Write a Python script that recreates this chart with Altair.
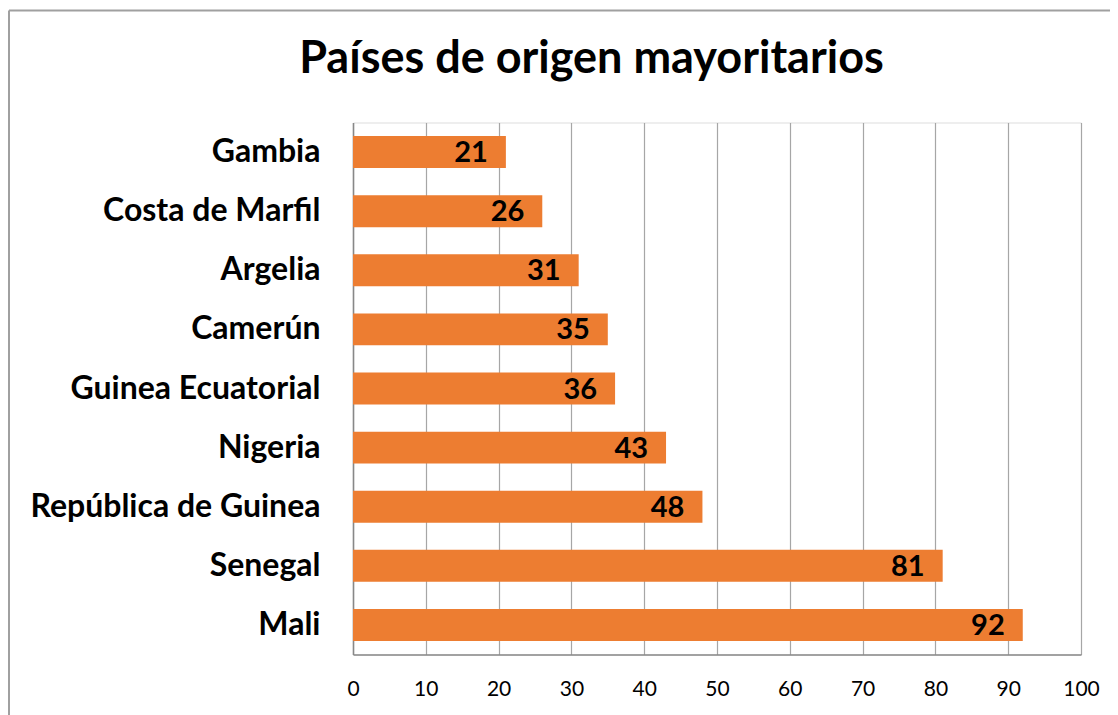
import altair as alt
import pandas as pd

title_text = "Países de origen mayoritarios"
countries = ["Gambia", "Costa de Marfil", "Argelia", "Camerún", "Guinea Ecuatorial",
             "Nigeria", "República de Guinea", "Senegal", "Mali"]
values = [21, 26, 31, 35, 36, 43, 48, 81, 92]
x_ticks = [0, 10, 20, 30, 40, 50, 60, 70, 80, 90, 100]

df = pd.DataFrame({"pais": countries, "valor": values})

FONT = "Lato"
ORANGE = "#ED7D31"

y_enc = alt.Y("pais:N", sort=countries, title=None,
              scale=alt.Scale(paddingInner=0.46, paddingOuter=0.23),
              axis=alt.Axis(labelFont=FONT, labelFontSize=32, labelFontWeight="bold",
                            labelColor="#000000", labelPadding=33, ticks=False,
                            domainColor="#888888", domainWidth=1.5, grid=False,
                            labelLimit=400))
x_enc = alt.X("valor:Q", title=None,
              scale=alt.Scale(domain=[0, 100], nice=False),
              axis=alt.Axis(values=x_ticks, labelFont=FONT, labelFontSize=21,
                            labelColor="#000000", labelPadding=24, ticks=False,
                            labelFlush=False, labelOverlap=False,
                            domainColor="#888888", domainWidth=1.5,
                            grid=True, gridColor="#a6a6a6", gridWidth=1.2))

base = alt.Chart(df)
bars = base.mark_bar(color=ORANGE).encode(x=x_enc, y=y_enc)
labels = base.mark_text(align="right", baseline="middle", dx=-18, dy=1,
                        font=FONT, fontSize=29, fontWeight="bold", color="#000000").encode(
    x="valor:Q", y=alt.Y("pais:N", sort=countries), text="valor:Q")

one = pd.DataFrame({"k": [0]})
frame_left = alt.Chart(one).mark_rule(color="#a0a0a0", strokeWidth=2).encode(
    x=alt.value(-344), y=alt.value(-112), y2=alt.value(620))
frame_top = alt.Chart(one).mark_rule(color="#a0a0a0", strokeWidth=2).encode(
    y=alt.value(-112), x=alt.value(-344), x2=alt.value(900))
title = alt.Chart(one).mark_text(align="center", baseline="alphabetic", font=FONT,
                                 fontSize=45, fontWeight="bold", color="#000000").encode(
    x=alt.value(238.5), y=alt.value(-50), text=alt.value(title_text))

chart = alt.layer(frame_left, frame_top, title, bars, labels).properties(
    width=728, height=532,
    autosize=alt.AutoSizeParams(type="none"),
    padding={"left": 345, "top": 114.5, "right": 29, "bottom": 60},
).configure_view(stroke=None).configure(background="#ffffff")

chart.save("out.html", embed_options={"renderer": "svg", "actions": False})
